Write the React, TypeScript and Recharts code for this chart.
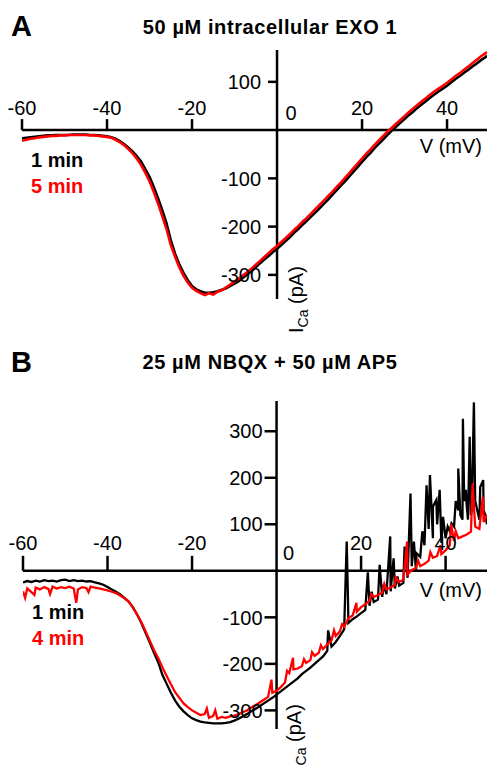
import { LineChart, Line, XAxis, YAxis, ReferenceLine, ReferenceDot } from 'recharts'

const FONT = '"Liberation Sans", Arial, Helvetica, sans-serif'
const RED = '#ff0000'
const INK = '#000000'

// command potential grid (mV)
const mV = [
  -60, -59, -58, -57, -56, -55, -54, -53, -52, -51,
  -50, -49, -48, -47, -46, -45, -44, -43, -42, -41,
  -40, -39, -38, -37, -36, -35, -34, -33, -32, -31,
  -30, -29, -28, -27, -26, -25, -24, -23, -22, -21,
  -20, -19, -18, -17, -16, -15, -14, -13, -12, -11,
  -10, -9, -8, -7, -6, -5, -4, -3, -2, -1,
  0, 1, 2, 3, 4, 5, 6, 7, 8, 9,
  10, 11, 12, 13, 14, 15, 16, 17, 18, 19,
  20, 21, 22, 23, 24, 25, 26, 27, 28, 29,
  30, 31, 32, 33, 34, 35, 36, 37, 38, 39,
  40, 41, 42, 43, 44, 45, 46, 47, 48, 49,
]
const voltsA = [...mV, 49.4]
const voltsB = [...mV, 49.8]

// A: 50 uM intracellular EXO 1, I_Ca in pA
const blackA = [
  -17, -16, -15, -14, -13, -12, -11, -11, -10, -10,
  -10, -10, -9, -9, -9, -9, -10, -10, -11, -12,
  -13, -15, -18, -23, -29, -36, -44, -54, -65, -81,
  -97, -118, -141, -166, -193, -228, -256, -278, -296, -311,
  -323, -330, -334, -337, -337, -336, -334, -331, -328, -323,
  -318, -313, -306, -299, -292, -284, -276, -268, -261, -253,
  -246, -238, -230, -222, -213, -205, -196, -188, -179, -171,
  -162, -153, -144, -134, -125, -115, -106, -96, -86, -76,
  -66, -56, -47, -37, -28, -19, -10, -1, 7, 15,
  23, 31, 38, 46, 53, 60, 67, 74, 80, 86,
  92, 99, 106, 112, 119, 125, 132, 138, 145, 151,
  154,
]
const redA = [
  -22, -20, -18, -17, -15, -14, -13, -12, -12, -11,
  -11, -10, -10, -10, -10, -10, -11, -11, -12, -13,
  -14, -16, -20, -25, -31, -39, -48, -59, -72, -88,
  -106, -128, -152, -178, -205, -238, -262, -284, -302, -316,
  -327, -333, -338, -342, -338, -341, -335, -332, -326, -320,
  -314, -308, -301, -294, -287, -279, -271, -263, -255, -247,
  -240, -232, -224, -216, -207, -199, -190, -182, -173, -164,
  -155, -146, -137, -128, -118, -109, -99, -89, -79, -69,
  -59, -49, -40, -30, -21, -12, -3, 5, 13, 21,
  29, 37, 45, 52, 59, 66, 73, 80, 86, 92,
  98, 105, 112, 118, 125, 132, 139, 146, 153, 159,
  162,
]

// B: 25 uM NBQX + 50 uM AP5
const blackB = [
  -25, -22, -24, -21, -23, -20, -22, -21, -23, -20,
  -19, -22, -20, -22, -21, -23, -22, -25, -27, -30,
  -35, -40, -45, -51, -58, -66, -78, -94, -112, -133,
  -154, -176, -197, -224, -243, -262, -279, -292, -302, -310,
  -317, -321, -324, -326, -327, -328, -328, -328, -327, -325,
  -322, -318, -313, -308, -302, -297, -291, -285, -279, -273,
  -266, -259, -252, -245, -238, -231, -222, -215, -208, -200,
  -192, -184, -172, -163, -153, -140, -126, -112, -104, -98,
  -91, -84, -75, -67, -62, -56, -50, -44, -38, -32,
  -26, -15, 10, 0, 30, 55, 90, 70, 100, 60,
  70, 85, 95, 130, 110, 140, 120, 150, 110, 130,
  100,
]
const redB = [
  -44, -38, -46, -36, -40, -35, -39, -34, -38, -35,
  -37, -34, -38, -40, -35, -37, -34, -36, -38, -40,
  -42, -45, -48, -53, -59, -66, -79, -94, -110, -130,
  -150, -170, -188, -208, -226, -244, -261, -273, -285, -293,
  -300, -305, -310, -308, -316, -312, -318, -314, -316, -313,
  -311, -308, -304, -300, -294, -289, -283, -277, -271, -262,
  -258, -250, -240, -220, -212, -210, -205, -198, -192, -183,
  -176, -168, -158, -150, -140, -130, -120, -102, -96, -88,
  -78, -72, -64, -56, -52, -47, -40, -36, -30, -24,
  -19, -8, 2, 6, 10, 15, 22, 28, 32, 36,
  44, 55, 64, 70, 74, 78, 84, 95, 90, 105,
  120,
]
// brief openings and noise riding on the B traces: [mV, pA]
const blackSpikesB = [
  [12.2, -128], [16.6, 63], [16.9, -60], [21.6, -3], [22.5, -45], [24.4, 13],
  [25.4, -30], [26.9, 74], [27.7, 27], [28.6, -12], [30.3, 52], [31.7, 166],
  [32.5, 63], [33.1, 38], [34.5, 85], [35.5, 184], [36.3, 206], [37.0, 138],
  [37.8, 152], [38.6, 174], [39.4, 116], [40.5, 95], [41.4, 102], [42.4, 150],
  [43.0, 220], [43.5, 120], [44.1, 327], [44.4, 150], [44.8, 174], [45.3, 110],
  [45.7, 288], [46.2, 130], [46.7, 362], [47.3, 138], [48.2, 180], [48.9, 195],
  [49.4, 120],
]
const redSpikesB = [
  [-59.5, -58], [-57.3, -52], [-53.6, -50], [-47.4, -69], [-44.5, -46],
  [-16.5, -296], [-14.5, -300], [-1.2, -234], [2.5, -215], [3.9, -187],
  [6.5, -190], [8.4, -175], [10.5, -160], [13.6, -128], [15.5, -115], [18.9, -69],
  [22.4, -50], [25.5, -28], [28.2, -14], [30.9, 63], [33.5, 22], [36.4, 40],
  [38.8, 55], [41.3, 100], [42.4, 85], [46.4, 188], [48.8, 159],
]

const xTicks = [-60, -40, -20, 0, 20, 40]
const yTicksA = [100, -100, -200, -300]
const yTicksB = [300, 200, 100, -100, -200, -300]

type Pt = { v: number; i: number }

function points(volts: number[], amps: number[], extra: number[][] = []): Pt[] {
  const pts = volts.map((v, k) => ({ v, i: amps[k] }))
  extra.forEach(([v, i]) => pts.push({ v, i }))
  return pts.sort((a, b) => a.v - b.v)
}

type PanelProps = {
  top: number
  height: number
  margin: { top: number; right: number; bottom: number; left: number }
  xDomain: [number, number]
  yDomain: [number, number]
  yTicks: number[]
  black: Pt[]
  red: Pt[]
  lw: number
  xTickLen: number
  xLabelGap: number
  zeroDx: number
  zeroDy: number
  yTickLen: number
  yLabelGap: number
  vLabelDy: number
  iLabelDx: number
  iLabelDy: number
}

function Panel(p: PanelProps) {
  return (
    <div style={{ position: 'absolute', left: 0, top: p.top }}>
      <LineChart width={488} height={p.height} margin={p.margin}>
        <XAxis type="number" dataKey="v" domain={p.xDomain} hide allowDataOverflow />
        <YAxis type="number" dataKey="i" domain={p.yDomain} hide allowDataOverflow />
        <ReferenceLine y={0} stroke={INK} strokeWidth={2.5} />
        <ReferenceLine x={0} stroke={INK} strokeWidth={2.5} />
        {xTicks.map(v => (
          <ReferenceDot key={'x' + v} x={v} y={0} r={1} shape={(s: any) => (
            v === 0 ? (
              <text x={s.cx + p.zeroDx} y={s.cy - p.zeroDy} textAnchor="middle" fontSize={20} fontFamily={FONT} fill={INK}>0</text>
            ) : (
              <g>
                <line x1={s.cx} y1={s.cy} x2={s.cx} y2={s.cy - p.xTickLen} stroke={INK} strokeWidth={2.5} />
                <text x={s.cx} y={s.cy - p.xLabelGap} textAnchor="middle" fontSize={20} fontFamily={FONT} fill={INK}>{v}</text>
              </g>
            )
          )} />
        ))}
        {p.yTicks.map(t => (
          <ReferenceDot key={'y' + t} x={0} y={t} r={1} shape={(s: any) => (
            <g>
              <line x1={s.cx} y1={s.cy} x2={s.cx - p.yTickLen} y2={s.cy} stroke={INK} strokeWidth={2.5} />
              <text x={s.cx - p.yLabelGap} y={s.cy} dy="0.36em" textAnchor="end" fontSize={20} fontFamily={FONT} fill={INK}>{t}</text>
            </g>
          )} />
        ))}
        <ReferenceDot x={p.xDomain[1]} y={0} r={1} shape={(s: any) => (
          <text x={s.cx - 5} y={s.cy + p.vLabelDy} textAnchor="end" fontSize={20} fontFamily={FONT} fill={INK}>V (mV)</text>
        )} />
        <ReferenceDot x={0} y={p.yDomain[0]} r={1} shape={(s: any) => {
          const x = s.cx + p.iLabelDx
          const y = s.cy + p.iLabelDy
          return (
            <text x={x} y={y} transform={`rotate(-90 ${x} ${y})`} fontSize={20} fontFamily={FONT} fill={INK}>
              I<tspan fontSize={14} dy={5}>Ca</tspan><tspan dy={-5}> (pA)</tspan>
            </text>
          )
        }} />
        <Line data={p.black} dataKey="i" stroke={INK} strokeWidth={p.lw} dot={false} isAnimationActive={false} />
        <Line data={p.red} dataKey="i" stroke={RED} strokeWidth={p.lw} dot={false} isAnimationActive={false} />
      </LineChart>
    </div>
  )
}

export default function App() {
  const bold = { fontFamily: FONT, fontWeight: 700 }
  return (
    <div style={{ position: 'absolute', left: 0, top: 0, width: 488, height: 765, background: '#fff', overflow: 'hidden' }}>
      <Panel
        top={0} height={340}
        margin={{ top: 50, right: 1, bottom: 41, left: 22 }}
        xDomain={[-60, 49.4]} yDomain={[-350, 166]} yTicks={yTicksA}
        black={points(voltsA, blackA)} red={points(voltsA, redA)} lw={2.6}
        xTickLen={11} xLabelGap={15} zeroDx={14} zeroDy={10}
        yTickLen={9} yLabelGap={16} vLabelDy={23} iLabelDx={26} iLabelDy={34}
      />
      <Panel
        top={340} height={425}
        margin={{ top: 61, right: 1, bottom: 36, left: 23 }}
        xDomain={[-60, 49.8]} yDomain={[-340, 365]} yTicks={yTicksB}
        black={points(voltsB, blackB, blackSpikesB)} red={points(voltsB, redB, redSpikesB)} lw={2.3}
        xTickLen={15} xLabelGap={21} zeroDx={12} zeroDy={11}
        yTickLen={12} yLabelGap={14} vLabelDy={26} iLabelDx={24} iLabelDy={42}
      />
      <svg width={488} height={765} style={{ position: 'absolute', left: 0, top: 0, pointerEvents: 'none' }}>
        <text x={11} y={36} fontSize={29} {...bold} fill={INK}>A</text>
        <text x={270} y={34} fontSize={20} letterSpacing={0.6} textAnchor="middle" {...bold} fill={INK}>50 µM intracellular EXO 1</text>
        <text x={31} y={167} fontSize={20} {...bold} fill={INK}>1 min</text>
        <text x={31} y={193} fontSize={20} {...bold} fill={RED}>5 min</text>
        <text x={11} y={372} fontSize={29} {...bold} fill={INK}>B</text>
        <text x={270} y={369} fontSize={20} letterSpacing={0.6} textAnchor="middle" {...bold} fill={INK}>25 µM NBQX + 50 µM AP5</text>
        <text x={32} y={619} fontSize={20} {...bold} fill={INK}>1 min</text>
        <text x={32} y={645} fontSize={20} {...bold} fill={RED}>4 min</text>
      </svg>
    </div>
  )
}
